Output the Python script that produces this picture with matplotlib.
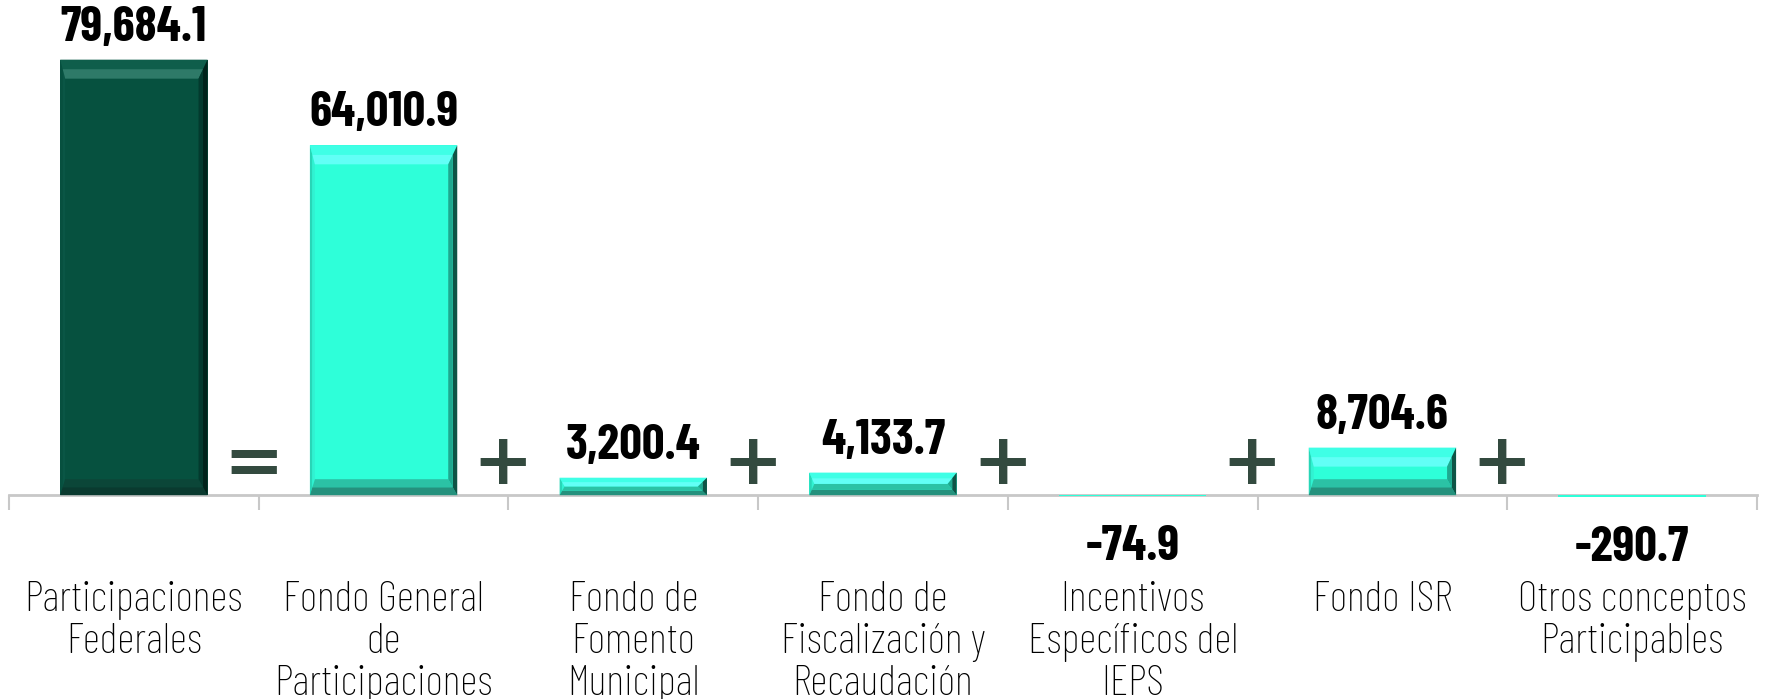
import matplotlib
matplotlib.use("Agg")
import matplotlib.pyplot as plt
from matplotlib import font_manager as fm
from matplotlib.patches import Polygon
from matplotlib.transforms import IdentityTransform

categories = ["Participaciones\nFederales", "Fondo General\nde\nParticipaciones",
              "Fondo de\nFomento\nMunicipal", "Fondo de\nFiscalización y\nRecaudación",
              "Incentivos\nEspecíficos del\nIEPS", "Fondo ISR",
              "Otros conceptos\nParticipables"]
values = [79684.1, 64010.9, 3200.4, 4133.7, -74.9, 8704.6, -290.7]
operators = ["=", "+", "+", "+", "+", "+"]

names = {f.name for f in fm.fontManager.ttflist}
def pick(cands):
    return [c for c in cands if c in names] + ["DejaVu Sans"]
label_font = pick(["Barlow Condensed", "Fira Sans Extra Condensed", "Fira Sans Condensed"])
value_font = pick(["Barlow Condensed", "Fira Sans Extra Condensed", "Fira Sans Condensed"])

fig = plt.figure(figsize=(17.66, 6.99), dpi=100)
ax = fig.add_axes([0.0051, 0.195, 0.9898, 0.805])

main_cols = ["#06513F"] + ["#2EFFD9"] * (len(values) - 1)
x = list(range(len(values)))
bars = ax.bar(x, values, width=0.59, color=main_cols, edgecolor="none", zorder=3)

ax.set_xlim(-0.5, len(values) - 0.5)
ax.set_ylim(-12350, 90600)

for s in ["top", "right", "left"]:
    ax.spines[s].set_visible(False)
ax.spines["bottom"].set_position(("data", 0))
ax.spines["bottom"].set_color("#C8C8C8")
ax.spines["bottom"].set_linewidth(2)
ax.spines["bottom"].set_zorder(2)
ax.set_yticks([])

ax.set_xticks(x)
ax.set_xticklabels(categories, fontsize=31, family=label_font, fontweight="light",
                   linespacing=1.1)
ax.tick_params(axis="x", which="major", length=0, pad=62)
ax.set_xticks([i - 0.5 for i in range(len(values) + 1)], minor=True)
ax.tick_params(axis="x", which="minor", length=11, width=1.5, color="#C8C8C8")

# bevel shading derived from each bar's own geometry: (outer band, inner band)
bevel = {
    "#06513F": dict(top=("#0F5E4B", "#2E7A68"), left=("#07503F", "#0A5645"),
                    right=("#01231B", "#033A2E"), bottom=("#0A3A2F", "#0B4638")),
    "#2EFFD9": dict(top=("#3FFFE6", "#62FFF6"), left=("#28D6B7", "#31F2D2"),
                    right=("#0E5446", "#1FA88F"), bottom=("#25917D", "#2BC2A5")),
}
widths = dict(top=19, bottom=16, left=5, right=9)

def ring(r_out, r_in, side):
    (ax0, ay0, ax1, ay1), (bx0, by0, bx1, by1) = r_out, r_in
    return {"top": [(ax0, ay1), (ax1, ay1), (bx1, by1), (bx0, by1)],
            "bottom": [(ax0, ay0), (ax1, ay0), (bx1, by0), (bx0, by0)],
            "left": [(ax0, ay0), (bx0, by0), (bx0, by1), (ax0, ay1)],
            "right": [(ax1, ay0), (bx1, by0), (bx1, by1), (ax1, ay1)]}[side]

for b, c in zip(bars, main_cols):
    (x0, y0), (x1, y1) = ax.transData.transform([(b.get_x(), min(0, b.get_height())),
                                                 (b.get_x() + b.get_width(), max(0, b.get_height()))])
    h = y1 - y0
    w = x1 - x0
    if h < 2:
        continue
    dt = min(widths["top"], h / 2)
    db = min(widths["bottom"], h / 2)
    dl = min(widths["left"], w / 4)
    dr = min(widths["right"], w / 4)
    r0 = (x0, y0, x1, y1)
    r1 = (x0 + dl / 2, y0 + db / 2, x1 - dr / 2, y1 - dt / 2)
    r2 = (x0 + dl, y0 + db, x1 - dr, y1 - dt)
    cs = bevel[c]
    for side in ["left", "bottom", "top", "right"]:
        ax.add_patch(Polygon(ring(r0, r1, side), closed=True, facecolor=cs[side][0],
                             edgecolor="none", transform=IdentityTransform(), zorder=4))
        ax.add_patch(Polygon(ring(r1, r2, side), closed=True, facecolor=cs[side][1],
                             edgecolor="none", transform=IdentityTransform(), zorder=4))

for i, v in enumerate(values):
    lab = f"{v:,.1f}"
    off = 23 if v >= 0 else -37
    ax.annotate(lab, (i, v), xytext=(0, off), textcoords="offset points",
                ha="center", va="center", fontsize=36, fontweight="bold",
                family=value_font)

for i, op in enumerate(operators):
    ax.annotate(op, (i + 0.5, 0), xytext=(-4, 22), textcoords="offset points",
                ha="center", va="center", fontsize=52, fontweight="bold",
                color="#334A3F", family="DejaVu Sans")

fig.savefig("out.png", dpi=100)
